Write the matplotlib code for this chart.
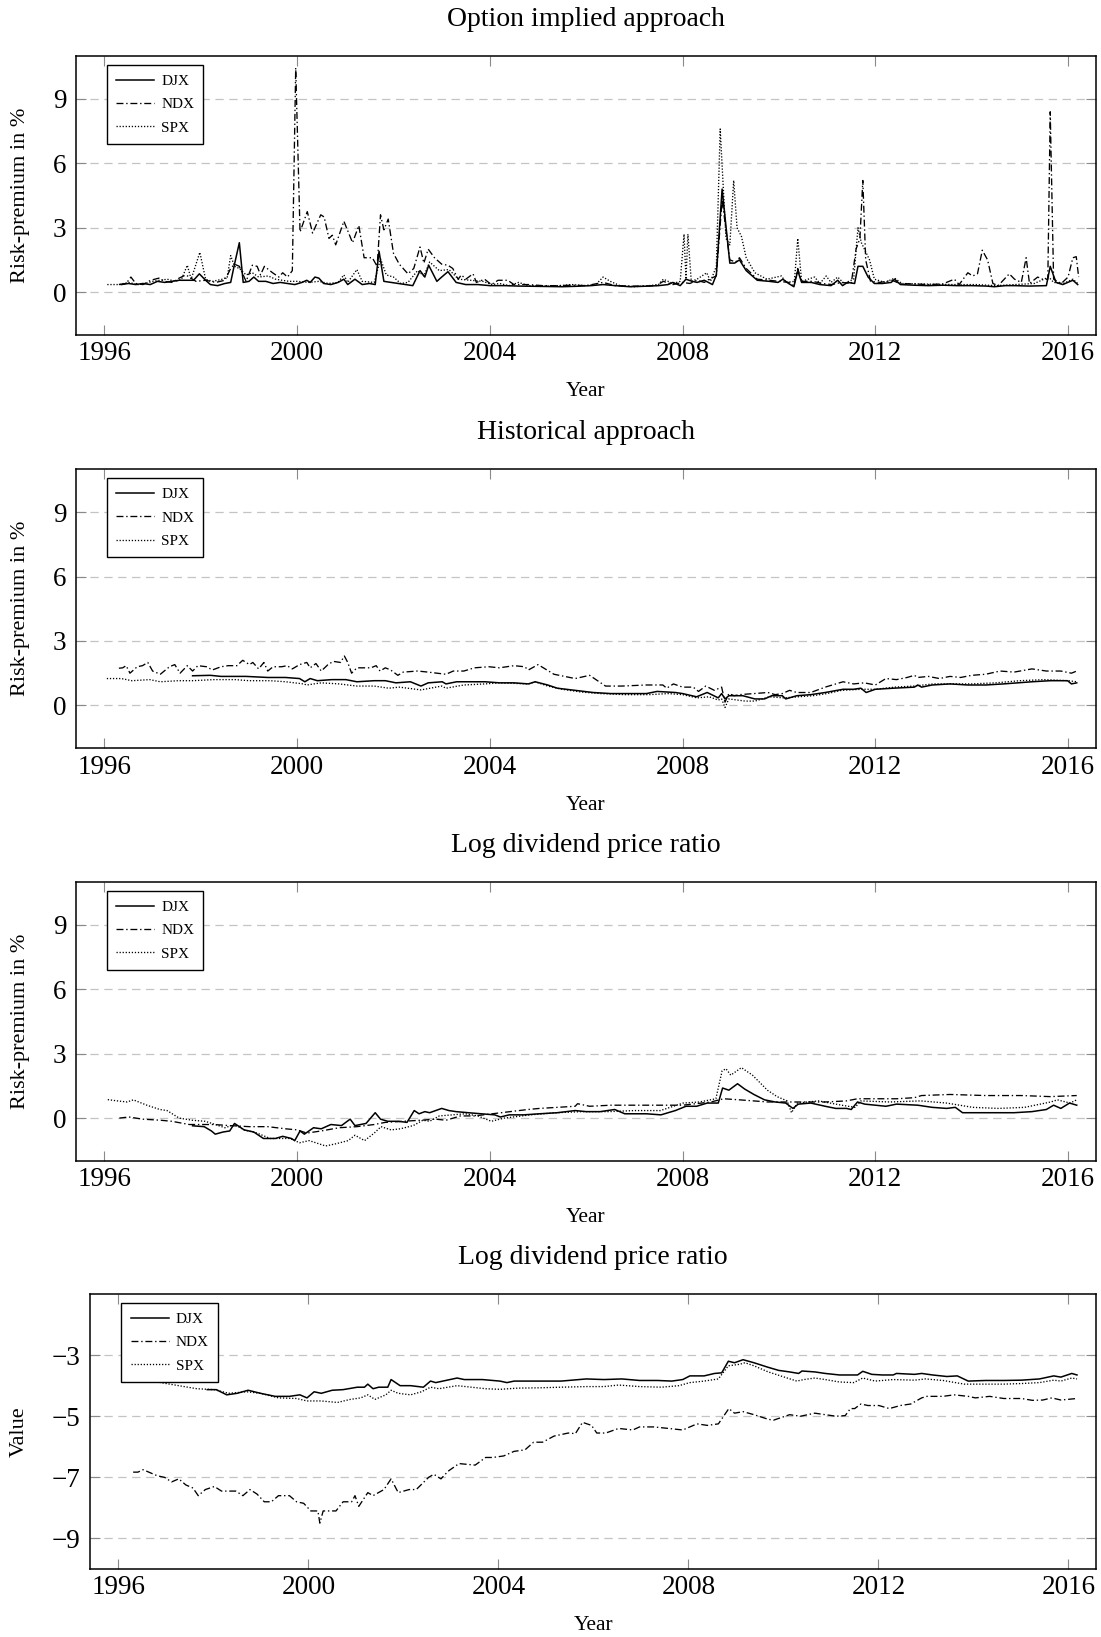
import matplotlib
matplotlib.use("Agg")
import matplotlib.pyplot as plt

plt.rcParams['font.family'] = ['Liberation Serif', 'DejaVu Serif']
plt.rcParams['lines.scale_dashes'] = False
plt.rcParams['axes.unicode_minus'] = True

# ---------------- data ----------------
series_names = ["DJX", "NDX", "SPX"]
panel_titles = ["Option implied approach", "Historical approach",
                "Log dividend price ratio", "Log dividend price ratio"]
x_ticks = [1996, 2000, 2004, 2008, 2012, 2016]
rp_ticks = [0, 3, 6, 9]
val_ticks = [-3, -5, -7, -9]

# Panel 1: option implied
oi_djx_x = [1996.35, 1996.5, 1996.65, 1996.8, 1996.95, 1997.1, 1997.25, 1997.4, 1997.55, 1997.7, 1997.85,
            1997.97, 1998.1, 1998.2, 1998.35, 1998.5, 1998.62, 1998.7, 1998.8, 1998.88, 1999.0, 1999.1,
            1999.2, 1999.35, 1999.5, 1999.65, 1999.8, 1999.95, 2000.1, 2000.2, 2000.27, 2000.37, 2000.45,
            2000.55, 2000.7, 2000.85, 2000.97, 2001.05, 2001.2, 2001.35, 2001.5, 2001.62, 2001.7, 2001.8,
            2001.95, 2002.1, 2002.25, 2002.4, 2002.55, 2002.65, 2002.73, 2002.9, 2003.0, 2003.13, 2003.3,
            2003.5, 2003.75, 2004.0, 2004.3, 2004.6, 2004.9, 2005.2, 2005.5, 2005.8, 2006.1, 2006.35,
            2006.6, 2006.9, 2007.2, 2007.5, 2007.7, 2007.8, 2007.95, 2008.07, 2008.2, 2008.3, 2008.45,
            2008.62, 2008.7, 2008.82, 2008.98, 2009.08, 2009.18, 2009.32, 2009.55, 2009.8, 2009.98,
            2010.08, 2010.2, 2010.31, 2010.39, 2010.47, 2010.67, 2010.85, 2011.08, 2011.22, 2011.32,
            2011.42, 2011.57, 2011.64, 2011.74, 2011.85, 2011.98, 2012.15, 2012.33, 2012.4, 2012.52,
            2012.8, 2013.1, 2013.4, 2013.7, 2014.0, 2014.3, 2014.47, 2014.7, 2014.89, 2015.2, 2015.55,
            2015.63, 2015.75, 2015.89, 2016.1, 2016.2]
oi_djx_y = [0.35, 0.4, 0.35, 0.4, 0.35, 0.5, 0.45, 0.5, 0.55, 0.55, 0.55,
            0.85, 0.55, 0.35, 0.3, 0.4, 0.45, 1.3, 2.3, 0.45, 0.5, 0.7,
            0.5, 0.5, 0.4, 0.45, 0.4, 0.35, 0.45, 0.55, 0.45, 0.7, 0.65,
            0.4, 0.35, 0.45, 0.6, 0.35, 0.6, 0.35, 0.4, 0.35, 1.9, 0.5,
            0.45, 0.4, 0.35, 0.3, 1.0, 0.7, 1.25, 0.5, 0.7, 0.95, 0.45,
            0.35, 0.35, 0.3, 0.3, 0.28, 0.27, 0.26, 0.25, 0.27, 0.3, 0.35,
            0.3, 0.25, 0.27, 0.3, 0.35, 0.45, 0.3, 0.6, 0.5, 0.45, 0.55,
            0.35, 0.8, 4.8, 1.35, 1.35, 1.5, 1.0, 0.55, 0.5, 0.45,
            0.6, 0.4, 0.25, 1.0, 0.45, 0.45, 0.35, 0.3, 0.55, 0.3,
            0.45, 0.4, 1.2, 1.2, 0.7, 0.4, 0.4, 0.45, 0.6, 0.35,
            0.32, 0.3, 0.32, 0.3, 0.3, 0.28, 0.25, 0.3, 0.3, 0.28, 0.3,
            1.2, 0.45, 0.35, 0.55, 0.35]

oi_ndx_x = [1996.3, 1996.45, 1996.55, 1996.65, 1996.8, 1996.96, 1997.13, 1997.25, 1997.41, 1997.55, 1997.69,
            1997.9, 1998.1, 1998.31, 1998.5, 1998.62, 1998.7, 1998.8, 1998.94, 1999.07, 1999.17, 1999.24,
            1999.32, 1999.49, 1999.62, 1999.7, 1999.8, 1999.9, 1999.97, 2000.06, 2000.21, 2000.32, 2000.49,
            2000.56, 2000.66, 2000.73, 2000.8, 2000.97, 2001.15, 2001.28, 2001.39, 2001.56, 2001.66,
            2001.73, 2001.8, 2001.89, 2002.0, 2002.12, 2002.3, 2002.42, 2002.55, 2002.63, 2002.72,
            2002.85, 2003.0, 2003.13, 2003.23, 2003.34, 2003.41, 2003.5, 2003.65, 2003.72, 2003.89,
            2004.03, 2004.17, 2004.37, 2004.5, 2004.8, 2005.1, 2005.4, 2005.7, 2006.0, 2006.35, 2006.6,
            2006.9, 2007.2, 2007.45, 2007.6, 2007.8, 2008.0, 2008.15, 2008.3, 2008.45, 2008.55, 2008.7,
            2008.82, 2008.98, 2009.1, 2009.18, 2009.32, 2009.55, 2009.8, 2010.0, 2010.2, 2010.31,
            2010.39, 2010.47, 2010.7, 2010.9, 2011.1, 2011.3, 2011.5, 2011.6, 2011.68, 2011.74, 2011.8,
            2011.9, 2012.1, 2012.35, 2012.5, 2012.8, 2013.1, 2013.4, 2013.64, 2013.74, 2013.92, 2014.02,
            2014.12, 2014.22, 2014.33, 2014.44, 2014.55, 2014.78, 2014.89, 2015.03, 2015.13, 2015.2,
            2015.37, 2015.47, 2015.58, 2015.63, 2015.7, 2015.86, 2016.0, 2016.1, 2016.17, 2016.22]
oi_ndx_y = [0.35, 0.4, 0.7, 0.4, 0.35, 0.55, 0.65, 0.5, 0.45, 0.65, 0.8,
            0.5, 0.55, 0.45, 0.55, 1.1, 1.3, 1.2, 0.5, 1.25, 1.2, 0.8,
            1.2, 0.9, 0.7, 0.9, 0.7, 1.0, 10.45, 2.8, 3.75, 2.75, 3.6,
            3.5, 2.5, 2.65, 2.2, 3.3, 2.3, 3.1, 1.6, 1.6, 1.2,
            3.6, 2.9, 3.4, 1.8, 1.3, 0.85, 1.1, 2.1, 1.35, 2.0,
            1.6, 1.3, 1.25, 1.1, 0.6, 0.8, 0.6, 0.85, 0.45, 0.6,
            0.35, 0.55, 0.55, 0.35, 0.35, 0.3, 0.3, 0.32, 0.3, 0.45, 0.3,
            0.28, 0.28, 0.3, 0.5, 0.35, 0.45, 0.4, 0.55, 0.45, 0.6, 0.75,
            4.3, 1.5, 1.4, 1.6, 1.1, 0.6, 0.55, 0.5, 0.45, 0.3,
            1.1, 0.5, 0.5, 0.4, 0.35, 0.45, 0.4, 2.0, 2.5, 5.2, 1.5,
            0.5, 0.45, 0.55, 0.4, 0.38, 0.35, 0.38, 0.6, 0.35, 0.9, 0.75,
            0.85, 1.95, 1.5, 0.4, 0.3, 0.85, 0.6, 0.45, 1.6, 0.4,
            0.7, 0.6, 0.6, 8.4, 0.6, 0.4, 0.7, 1.6, 1.65, 0.7]

oi_spx_x = [1996.06, 1996.3, 1996.5, 1996.7, 1996.85, 1997.0, 1997.15, 1997.3, 1997.48, 1997.6, 1997.72,
            1997.8, 1997.98, 1998.1, 1998.24, 1998.45, 1998.55, 1998.62, 1998.7, 1998.8, 1998.94, 1999.07,
            1999.2, 1999.4, 1999.55, 1999.83, 2000.0, 2000.25, 2000.45, 2000.65, 2000.85, 2000.97, 2001.05,
            2001.24, 2001.35, 2001.6, 2001.73, 2001.85, 2002.0, 2002.15, 2002.3, 2002.5, 2002.63, 2002.75,
            2002.95, 2003.15, 2003.35, 2003.6, 2003.85, 2004.05, 2004.2, 2004.4, 2004.6, 2004.8, 2005.0,
            2005.2, 2005.45, 2005.7, 2006.0, 2006.2, 2006.35, 2006.5, 2006.7, 2007.0, 2007.3, 2007.5,
            2007.6, 2007.8, 2007.95, 2008.03, 2008.07, 2008.11, 2008.18, 2008.3, 2008.5, 2008.58, 2008.7,
            2008.78, 2008.9, 2008.98, 2009.06, 2009.13, 2009.22, 2009.32, 2009.5, 2009.75, 2010.05,
            2010.15, 2010.32, 2010.39, 2010.47, 2010.74, 2010.85, 2010.98, 2011.08, 2011.22, 2011.35,
            2011.55, 2011.64, 2011.71, 2011.88, 2011.98, 2012.2, 2012.4, 2012.55, 2012.9, 2013.3, 2013.7,
            2014.1, 2014.5, 2014.9, 2015.3, 2015.6, 2015.7, 2015.9, 2016.1, 2016.2]
oi_spx_y = [0.35, 0.35, 0.45, 0.35, 0.4, 0.5, 0.55, 0.6, 0.5, 0.6, 1.25,
            0.6, 1.85, 0.6, 0.5, 0.6, 0.7, 1.7, 1.2, 1.1, 0.8, 0.9,
            0.7, 0.75, 0.6, 0.5, 0.5, 0.45, 0.5, 0.4, 0.45, 0.8, 0.45,
            1.05, 0.5, 0.45, 1.55, 0.8, 0.7, 0.4, 0.45, 1.0, 0.75, 1.4,
            1.0, 1.05, 0.6, 0.55, 0.5, 0.35, 0.4, 0.3, 0.45, 0.3, 0.3,
            0.28, 0.3, 0.35, 0.3, 0.35, 0.7, 0.5, 0.3, 0.25, 0.3, 0.35,
            0.6, 0.4, 0.5, 2.7, 0.6, 2.7, 0.5, 0.6, 0.9, 0.5, 1.2,
            7.6, 2.5, 2.2, 5.2, 3.0, 2.6, 1.6, 0.9, 0.6, 0.75,
            0.45, 0.5, 2.5, 0.5, 0.7, 0.4, 0.75, 0.45, 0.7, 0.4,
            0.6, 3.0, 2.3, 1.5, 0.6, 0.45, 0.65, 0.4, 0.38, 0.36, 0.35,
            0.35, 0.3, 0.35, 0.4, 0.7, 0.45, 0.4, 0.6, 0.4]

# Panel 2: historical
hi_djx_x = [1997.83, 1998.2, 1998.42, 1998.94, 1999.39, 1999.76, 2000.05, 2000.16, 2000.27, 2000.42, 2000.72,
            2001.01, 2001.24, 2001.6, 2001.83, 2002.05, 2002.35, 2002.57, 2002.72, 2003.01, 2003.09, 2003.31,
            2003.6, 2003.9, 2004.2, 2004.5, 2004.8, 2004.94, 2005.2, 2005.4, 2005.77, 2006.14, 2006.51,
            2007.25, 2007.47, 2007.85, 2008.0, 2008.29, 2008.51, 2008.74, 2008.81, 2008.88, 2008.96,
            2009.25, 2009.5, 2009.7, 2009.85, 2010.07, 2010.14, 2010.37, 2010.66, 2010.96, 2011.33,
            2011.55, 2011.7, 2011.81, 2012.0, 2012.37, 2012.81, 2012.88, 2012.96, 2013.18, 2013.55,
            2013.92, 2014.29, 2014.66, 2015.25, 2015.63, 2015.99, 2016.07, 2016.18]
hi_djx_y = [1.38, 1.4, 1.35, 1.35, 1.3, 1.3, 1.25, 1.1, 1.25, 1.15, 1.2,
            1.2, 1.1, 1.15, 1.15, 1.05, 1.1, 0.9, 1.05, 1.1, 1.0, 1.1,
            1.1, 1.1, 1.05, 1.05, 1.0, 1.1, 0.95, 0.8, 0.7, 0.6, 0.55,
            0.55, 0.65, 0.6, 0.55, 0.4, 0.6, 0.35, 0.55, 0.3, 0.45,
            0.45, 0.3, 0.3, 0.45, 0.45, 0.3, 0.45, 0.5, 0.6, 0.75,
            0.75, 0.8, 0.6, 0.75, 0.8, 0.85, 0.95, 0.85, 0.95, 1.0,
            0.95, 0.95, 1.0, 1.1, 1.15, 1.15, 1.0, 1.05]

hi_ndx_x = [1996.3, 1996.38, 1996.45, 1996.53, 1996.68, 1996.79, 1996.9, 1997.0, 1997.16, 1997.35, 1997.46,
            1997.57, 1997.72, 1997.83, 1997.94, 1998.12, 1998.24, 1998.42, 1998.57, 1998.75, 1998.87,
            1999.01, 1999.08, 1999.2, 1999.31, 1999.39, 1999.5, 1999.68, 1999.79, 1999.9, 2000.05, 2000.2,
            2000.27, 2000.39, 2000.5, 2000.64, 2000.75, 2000.9, 2000.98, 2001.05, 2001.13, 2001.24,
            2001.53, 2001.64, 2001.72, 2001.83, 2001.94, 2002.09, 2002.2, 2002.5, 2002.72, 2002.9,
            2003.09, 2003.24, 2003.46, 2003.68, 2003.98, 2004.2, 2004.35, 2004.5, 2004.72, 2004.8,
            2005.0, 2005.33, 2005.77, 2006.07, 2006.4, 2006.74, 2007.25, 2007.59, 2007.67, 2007.81,
            2008.0, 2008.22, 2008.33, 2008.48, 2008.66, 2008.81, 2008.88, 2008.96, 2009.07, 2009.18,
            2009.48, 2009.77, 2009.92, 2010.07, 2010.22, 2010.37, 2010.66, 2010.96, 2011.33, 2011.55,
            2011.77, 2012.0, 2012.22, 2012.44, 2012.66, 2012.81, 2012.88, 2013.1, 2013.33, 2013.55,
            2013.77, 2014.0, 2014.29, 2014.59, 2014.88, 2015.25, 2015.55, 2015.85, 2016.07, 2016.18]
hi_ndx_y = [1.73, 1.75, 1.85, 1.5, 1.8, 1.85, 2.0, 1.6, 1.45, 1.8, 1.9,
            1.5, 1.85, 1.6, 1.85, 1.8, 1.65, 1.8, 1.85, 1.85, 2.1,
            1.9, 2.0, 1.7, 2.0, 1.6, 1.8, 1.8, 1.85, 1.7, 1.9, 2.0,
            1.75, 1.95, 1.6, 1.9, 2.05, 2.0, 2.3, 2.0, 1.5, 1.75,
            1.75, 1.85, 1.6, 1.75, 1.65, 1.4, 1.55, 1.6, 1.55, 1.5,
            1.45, 1.6, 1.6, 1.75, 1.8, 1.75, 1.8, 1.85, 1.8, 1.65,
            1.9, 1.45, 1.25, 1.4, 0.9, 0.9, 0.95, 0.95, 0.8, 1.0,
            0.85, 0.85, 0.65, 0.9, 0.7, 0.85, 0.15, 0.55, 0.45, 0.5,
            0.55, 0.6, 0.5, 0.55, 0.7, 0.6, 0.6, 0.85, 1.1, 1.0,
            1.05, 0.95, 1.25, 1.2, 1.3, 1.4, 1.3, 1.35, 1.25, 1.35,
            1.3, 1.4, 1.45, 1.6, 1.55, 1.7, 1.6, 1.6, 1.5, 1.6]

hi_spx_x = [1996.05, 1996.35, 1996.57, 1996.94, 1997.16, 1997.53, 1997.83, 1998.27, 1998.72, 1999.0, 1999.44,
            1999.76, 2000.13, 2000.2, 2000.5, 2000.87, 2001.24, 2001.6, 2001.9, 2002.12, 2002.57, 2003.0,
            2003.09, 2003.46, 2003.9, 2004.2, 2004.8, 2004.94, 2005.2, 2005.5, 2005.9, 2006.3, 2006.8,
            2007.3, 2007.7, 2008.0, 2008.3, 2008.55, 2008.74, 2008.81, 2008.88, 2008.96, 2009.3, 2009.5,
            2009.8, 2010.1, 2010.4, 2010.7, 2011.0, 2011.3, 2011.7, 2012.0, 2012.4, 2012.8, 2013.2,
            2013.6, 2014.0, 2014.5, 2015.0, 2015.5, 2016.0, 2016.18]
hi_spx_y = [1.25, 1.25, 1.15, 1.2, 1.1, 1.15, 1.15, 1.2, 1.2, 1.15, 1.15,
            1.1, 1.0, 0.95, 1.05, 1.0, 0.9, 0.9, 0.8, 0.85, 0.72, 0.9,
            0.8, 0.95, 1.0, 1.05, 1.0, 1.1, 0.9, 0.75, 0.62, 0.55, 0.5,
            0.5, 0.55, 0.5, 0.35, 0.4, 0.25, 0.3, -0.1, 0.3, 0.2, 0.2,
            0.4, 0.35, 0.4, 0.45, 0.55, 0.7, 0.75, 0.75, 0.85, 0.9, 1.0,
            1.0, 1.0, 1.05, 1.15, 1.2, 1.15, 1.1]

# Panel 3: log dividend price ratio (risk premium)
ld_djx_x = [1997.83, 1998.07, 1998.22, 1998.3, 1998.46, 1998.6, 1998.7, 1998.9, 1999.1, 1999.3, 1999.55,
            1999.7, 1999.88, 1999.95, 2000.06, 2000.15, 2000.34, 2000.5, 2000.7, 2000.92, 2001.1, 2001.2,
            2001.43, 2001.62, 2001.73, 2001.88, 2002.1, 2002.28, 2002.43, 2002.53, 2002.65, 2002.75,
            2003.0, 2003.15, 2003.3, 2003.55, 2003.82, 2004.1, 2004.22, 2004.4, 2004.7, 2005.03, 2005.4,
            2005.77, 2006.0, 2006.29, 2006.59, 2006.8, 2007.25, 2007.55, 2007.85, 2008.07, 2008.29,
            2008.51, 2008.74, 2008.83, 2008.96, 2009.14, 2009.29, 2009.48, 2009.7, 2009.92, 2010.14,
            2010.29, 2010.4, 2010.66, 2010.96, 2011.18, 2011.4, 2011.5, 2011.63, 2011.78, 2012.0,
            2012.22, 2012.44, 2012.88, 2013.18, 2013.48, 2013.66, 2013.81, 2014.07, 2014.51, 2014.88,
            2015.25, 2015.55, 2015.7, 2015.85, 2016.03, 2016.18]
ld_djx_y = [-0.36, -0.4, -0.6, -0.75, -0.65, -0.6, -0.25, -0.55, -0.65, -0.95, -0.95,
            -0.85, -0.95, -1.05, -0.6, -0.75, -0.45, -0.5, -0.3, -0.35, -0.05, -0.35,
            -0.25, 0.25, -0.05, -0.15, -0.15, -0.2, 0.35, 0.2, 0.3, 0.25,
            0.45, 0.35, 0.3, 0.25, 0.2, 0.15, 0.05, 0.15, 0.15, 0.2, 0.25,
            0.35, 0.3, 0.3, 0.4, 0.2, 0.2, 0.15, 0.35, 0.55, 0.55,
            0.7, 0.7, 1.4, 1.3, 1.6, 1.35, 1.1, 0.85, 0.75, 0.7,
            0.45, 0.65, 0.7, 0.55, 0.45, 0.45, 0.4, 0.75, 0.65, 0.6,
            0.55, 0.65, 0.6, 0.5, 0.45, 0.5, 0.25, 0.25, 0.25, 0.25,
            0.3, 0.4, 0.6, 0.45, 0.7, 0.6]

ld_ndx_x = [1996.31, 1996.51, 1996.79, 1997.16, 1997.4, 1997.76, 1998.0, 1998.27, 1998.6, 1999.01, 1999.39,
            1999.76, 2000.0, 2000.2, 2000.5, 2000.87, 2001.24, 2001.6, 2001.83, 2002.2, 2002.57, 2002.87,
            2003.09, 2003.39, 2003.68, 2004.05, 2004.42, 2004.79, 2005.03, 2005.4, 2005.77, 2005.82,
            2006.07, 2006.51, 2007.25, 2008.0, 2008.59, 2008.85, 2009.18, 2009.77, 2010.22, 2010.96,
            2011.4, 2011.63, 2012.44, 2012.81, 2012.96, 2013.55, 2014.29, 2015.03, 2015.63, 2016.18]
ld_ndx_y = [0.0, 0.05, -0.05, -0.1, -0.15, -0.3, -0.3, -0.3, -0.35, -0.4, -0.4,
            -0.5, -0.55, -0.7, -0.6, -0.45, -0.4, -0.3, -0.2, -0.15, -0.1, -0.05,
            -0.1, 0.1, 0.1, 0.2, 0.3, 0.4, 0.45, 0.5, 0.55, 0.67,
            0.55, 0.6, 0.6, 0.6, 0.75, 0.9, 0.85, 0.75, 0.75, 0.75,
            0.8, 0.9, 0.9, 0.95, 1.05, 1.1, 1.05, 1.05, 1.0, 1.05]

ld_spx_x = [1996.07, 1996.27, 1996.47, 1996.6, 1996.88, 1997.15, 1997.3, 1997.55, 1997.82, 1998.09, 1998.3,
            1998.5, 1998.7, 1998.9, 1999.17, 1999.44, 1999.85, 2000.05, 2000.25, 2000.59, 2000.8, 2001.06,
            2001.2, 2001.4, 2001.6, 2001.74, 2001.95, 2002.14, 2002.41, 2002.61, 2002.75, 2002.95, 2003.22,
            2003.49, 2003.75, 2004.03, 2004.3, 2004.84, 2005.38, 2005.92, 2006.46, 2007.0, 2007.54,
            2008.01, 2008.35, 2008.69, 2008.82, 2008.9, 2009.0, 2009.22, 2009.45, 2009.76, 2009.96,
            2010.17, 2010.26, 2010.38, 2010.82, 2011.3, 2011.58, 2011.7, 2012.3, 2012.94, 2013.48,
            2014.02, 2014.56, 2015.1, 2015.64, 2015.78, 2016.04, 2016.18]
ld_spx_y = [0.86, 0.8, 0.75, 0.85, 0.6, 0.4, 0.35, 0.0, -0.1, -0.15, -0.3,
            -0.45, -0.3, -0.55, -0.7, -0.95, -0.95, -1.15, -1.05, -1.3, -1.2, -1.05,
            -0.8, -1.05, -0.7, -0.4, -0.55, -0.5, -0.35, -0.1, -0.15, 0.1, 0.15,
            0.2, 0.1, -0.15, 0.0, 0.15, 0.25, 0.3, 0.3, 0.35, 0.35,
            0.7, 0.75, 0.9, 2.2, 2.3, 2.0, 2.35, 2.0, 1.3, 1.0,
            0.8, 0.25, 0.7, 0.8, 0.6, 0.5, 0.8, 0.75, 0.8, 0.7,
            0.5, 0.45, 0.5, 0.75, 0.85, 0.7, 0.85]

# Panel 4: log dividend price ratio (value)
lv_djx_x = [1997.87, 1998.06, 1998.28, 1998.5, 1998.73, 1998.99, 1999.3, 1999.6, 1999.82, 1999.97, 2000.12,
            2000.27, 2000.5, 2000.73, 2001.03, 2001.18, 2001.25, 2001.36, 2001.48, 2001.67, 2001.74, 2001.93,
            2002.15, 2002.42, 2002.57, 2002.68, 2002.83, 2003.13, 2003.28, 2003.66, 2004.03, 2004.18,
            2004.33, 2004.63, 2004.87, 2005.32, 2005.85, 2006.22, 2006.6, 2006.97, 2007.35, 2007.65,
            2007.88, 2008.03, 2008.33, 2008.55, 2008.7, 2008.84, 2008.97, 2009.15, 2009.38, 2009.68,
            2009.9, 2010.13, 2010.32, 2010.39, 2010.66, 2010.88, 2011.18, 2011.41, 2011.56, 2011.67,
            2011.86, 2012.08, 2012.31, 2012.38, 2012.76, 2012.91, 2013.14, 2013.44, 2013.66, 2013.89,
            2014.26, 2014.64, 2015.01, 2015.39, 2015.69, 2015.84, 2016.07, 2016.18]
lv_djx_y = [-4.13, -4.13, -4.3, -4.25, -4.15, -4.25, -4.35, -4.35, -4.3, -4.4, -4.2,
            -4.25, -4.15, -4.13, -4.05, -4.05, -3.95, -4.1, -4.05, -4.05, -3.8, -4.0,
            -4.0, -4.05, -3.85, -3.9, -3.85, -3.75, -3.8, -3.8, -3.85, -3.9,
            -3.85, -3.85, -3.85, -3.85, -3.78, -3.8, -3.78, -3.83, -3.83, -3.85,
            -3.8, -3.68, -3.68, -3.6, -3.58, -3.2, -3.25, -3.15, -3.25, -3.4,
            -3.5, -3.55, -3.6, -3.52, -3.55, -3.6, -3.65, -3.65, -3.65, -3.53,
            -3.63, -3.65, -3.65, -3.6, -3.63, -3.6, -3.65, -3.7, -3.68, -3.85,
            -3.83, -3.83, -3.82, -3.78, -3.68, -3.72, -3.6, -3.65]

lv_ndx_x = [1996.31, 1996.41, 1996.52, 1996.67, 1996.82, 1996.97, 1997.12, 1997.27, 1997.42, 1997.57, 1997.68,
            1997.83, 1998.02, 1998.17, 1998.47, 1998.62, 1998.77, 1998.92, 1999.07, 1999.22, 1999.37,
            1999.6, 1999.75, 1999.9, 2000.05, 2000.2, 2000.24, 2000.31, 2000.58, 2000.73, 2000.91,
            2000.98, 2001.06, 2001.25, 2001.36, 2001.59, 2001.74, 2001.89, 2002.12, 2002.27, 2002.53,
            2002.64, 2002.79, 2002.94, 2003.17, 2003.51, 2003.73, 2003.88, 2004.11, 2004.33, 2004.56,
            2004.74, 2004.93, 2005.17, 2005.47, 2005.62, 2005.77, 2005.96, 2006.07, 2006.26, 2006.53,
            2006.83, 2006.97, 2007.27, 2007.58, 2007.88, 2008.18, 2008.4, 2008.63, 2008.74, 2008.85,
            2008.97, 2009.15, 2009.38, 2009.68, 2009.79, 2010.13, 2010.36, 2010.66, 2010.88, 2011.11,
            2011.3, 2011.41, 2011.5, 2011.63, 2011.78, 2012.01, 2012.23, 2012.46, 2012.68, 2012.91,
            2013.02, 2013.36, 2013.59, 2013.89, 2014.04, 2014.34, 2014.64, 2015.01, 2015.24, 2015.46,
            2015.65, 2015.84, 2016.18]
lv_ndx_y = [-6.83, -6.83, -6.75, -6.85, -6.95, -7.0, -7.15, -7.05, -7.25, -7.35, -7.6,
            -7.4, -7.3, -7.45, -7.45, -7.6, -7.4, -7.55, -7.8, -7.8, -7.6,
            -7.6, -7.8, -7.85, -8.1, -8.1, -8.5, -8.1, -8.1, -7.8, -7.8,
            -7.6, -7.95, -7.5, -7.6, -7.4, -7.05, -7.5, -7.4, -7.4, -7.0,
            -6.9, -7.05, -6.8, -6.55, -6.6, -6.35, -6.35, -6.3, -6.15, -6.1,
            -5.85, -5.85, -5.65, -5.55, -5.57, -5.2, -5.3, -5.55, -5.55, -5.4,
            -5.45, -5.35, -5.35, -5.4, -5.45, -5.25, -5.3, -5.25, -5.0, -4.75,
            -4.9, -4.85, -4.95, -5.1, -5.13, -4.95, -5.0, -4.9, -4.95, -5.0,
            -4.98, -4.75, -4.75, -4.6, -4.65, -4.65, -4.75, -4.65, -4.6, -4.4,
            -4.35, -4.35, -4.3, -4.35, -4.4, -4.35, -4.42, -4.42, -4.48, -4.47,
            -4.4, -4.47, -4.42]

lv_spx_x = [1996.1, 1996.29, 1996.59, 1996.89, 1997.27, 1997.65, 1998.02, 1998.32, 1998.7, 1998.99, 1999.37,
            1999.75, 1999.97, 2000.27, 2000.61, 2000.88, 2001.1, 2001.25, 2001.4, 2001.63, 2001.74, 2001.89,
            2002.15, 2002.38, 2002.57, 2002.75, 2003.13, 2003.43, 2003.73, 2004.03, 2004.41, 2004.87,
            2005.32, 2005.85, 2006.22, 2006.53, 2006.97, 2007.43, 2007.8, 2008.03, 2008.33, 2008.63,
            2008.84, 2009.08, 2009.19, 2009.38, 2009.68, 2009.98, 2010.28, 2010.43, 2010.66, 2010.88,
            2011.18, 2011.48, 2011.67, 2011.93, 2012.31, 2012.76, 2012.99, 2013.36, 2013.81, 2014.26,
            2014.64, 2015.01, 2015.39, 2015.69, 2015.84, 2016.07, 2016.18]
lv_spx_y = [-3.83, -3.85, -3.8, -3.9, -4.0, -4.1, -4.13, -4.25, -4.2, -4.25, -4.4,
            -4.42, -4.5, -4.5, -4.55, -4.45, -4.4, -4.3, -4.45, -4.3, -4.15, -4.25,
            -4.3, -4.2, -4.05, -4.1, -4.0, -4.05, -4.1, -4.12, -4.08, -4.07,
            -4.05, -4.03, -4.03, -3.98, -4.03, -4.05, -4.0, -3.9, -3.85, -3.78,
            -3.35, -3.3, -3.25, -3.35, -3.55, -3.7, -3.85, -3.8, -3.75, -3.8,
            -3.88, -3.9, -3.75, -3.85, -3.8, -3.82, -3.78, -3.83, -3.95, -3.95,
            -3.95, -3.93, -3.9, -3.82, -3.85, -3.75, -3.78]

# ---------------- styling ----------------
W, H = 1101, 1637
styles = {
    "DJX": dict(color="black", lw=1.1, ls="-"),
    "NDX": dict(color="black", lw=0.95, ls=(0, (5, 2, 1, 2))),
    "SPX": dict(color="black", lw=0.95, ls=(0, (0.9, 1.3))),
}

panels = [
    dict(box=(76, 56, 1096, 335), title=panel_titles[0], ylabel="Risk-premium in %",
         data=[(oi_djx_x, oi_djx_y), (oi_ndx_x, oi_ndx_y), (oi_spx_x, oi_spx_y)],
         ylim=(-2, 11), yticks=rp_ticks, ylab_x=21),
    dict(box=(76, 469.3, 1096, 748.3), title=panel_titles[1], ylabel="Risk-premium in %",
         data=[(hi_djx_x, hi_djx_y), (hi_ndx_x, hi_ndx_y), (hi_spx_x, hi_spx_y)],
         ylim=(-2, 11), yticks=rp_ticks, ylab_x=21),
    dict(box=(76, 882, 1096, 1161), title=panel_titles[2], ylabel="Risk-premium in %",
         data=[(ld_djx_x, ld_djx_y), (ld_ndx_x, ld_ndx_y), (ld_spx_x, ld_spx_y)],
         ylim=(-2, 11), yticks=rp_ticks, ylab_x=21),
    dict(box=(90.4, 1294, 1096, 1569), title=panel_titles[3], ylabel="Value",
         data=[(lv_djx_x, lv_djx_y), (lv_ndx_x, lv_ndx_y), (lv_spx_x, lv_spx_y)],
         ylim=(-10, -1), yticks=val_ticks, ylab_x=19.6),
]

fig = plt.figure(figsize=(W / 100, H / 100), dpi=100)

for p in panels:
    l, t, r, b = p["box"]
    wpx, hpx = r - l, b - t
    ax = fig.add_axes([l / W, 1 - b / H, wpx / W, hpx / H])
    for name, (xs, ys) in zip(series_names, p["data"]):
        ax.plot(xs, ys, label=name, **styles[name])
    ax.set_xlim(1995.41, 2016.58)
    ax.set_ylim(*p["ylim"])
    ax.set_xticks(x_ticks)
    ax.set_xticklabels([str(v) for v in x_ticks])
    ax.set_yticks(p["yticks"])
    ax.set_yticklabels([f"{v}".replace("-", "\u2212") for v in p["yticks"]])
    ax.grid(axis="y", color="#c4c4c4", lw=0.9, ls=(0, (6, 4)))
    ax.set_axisbelow(True)
    ax.tick_params(axis="both", direction="in", length=7.5, width=0.8, color="#8a8a8a",
                   top=True, right=True, labelsize=19.5)
    ax.tick_params(axis="x", pad=4.5)
    ax.tick_params(axis="y", pad=7)
    for s in ax.spines.values():
        s.set_linewidth(1.1)
        s.set_color("black")
    ax.set_xlabel("Year", fontsize=15.5, va="center")
    ax.xaxis.set_label_coords(0.5, -57 / hpx)
    ax.set_ylabel(p["ylabel"], fontsize=16, va="center")
    ax.yaxis.set_label_coords((p["ylab_x"] - l) / wpx, 0.5)
    ax.text(0.5, 1 + 37 / hpx, p["title"], transform=ax.transAxes, ha="center",
            va="center", fontsize=20)
    leg = ax.legend(loc="upper left", bbox_to_anchor=(31 / wpx, 1 - 9 / hpx), borderaxespad=0,
                    fontsize=11, frameon=True, fancybox=False, framealpha=1,
                    edgecolor="black", handlelength=2.5, handletextpad=0.45,
                    labelspacing=0.64, borderpad=0.6)
    leg.get_frame().set_linewidth(1.0)

fig.savefig("out.png", dpi=100)
